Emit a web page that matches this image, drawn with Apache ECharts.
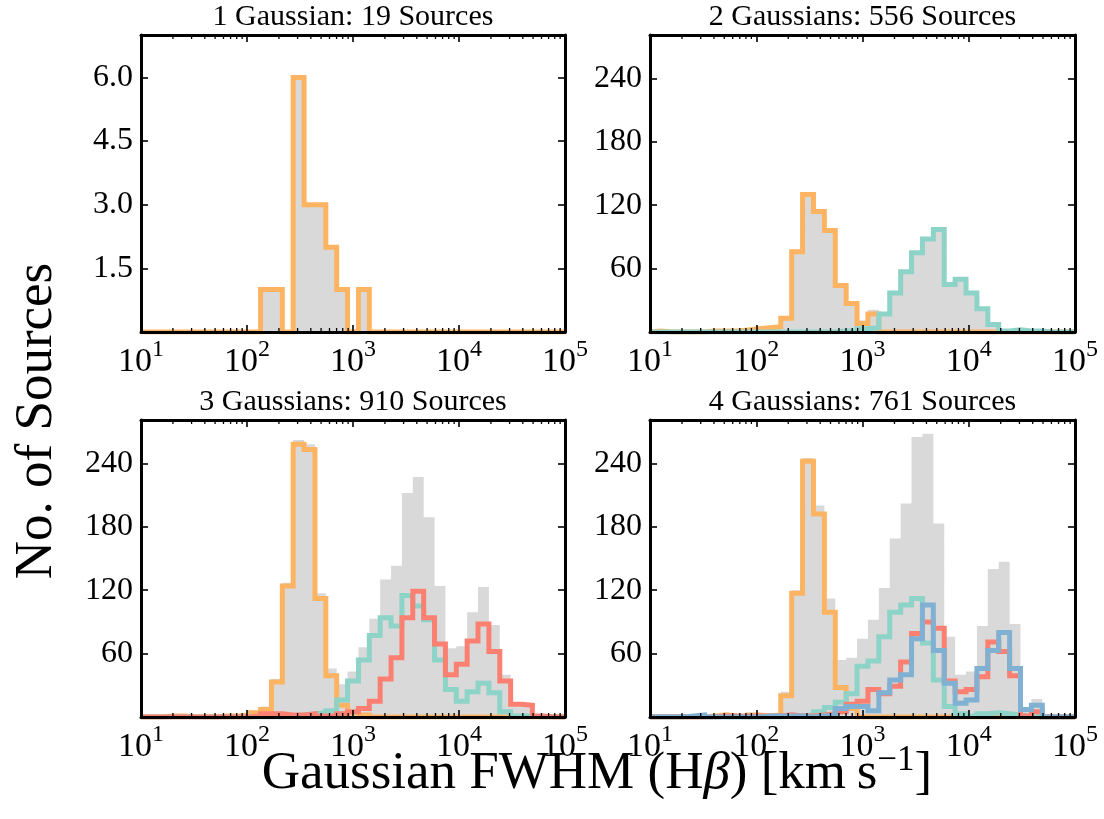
<!DOCTYPE html>
<html><head><meta charset="utf-8">
<script src="https://cdn.jsdelivr.net/npm/echarts@6/dist/echarts.min.js"></script>
<style>html,body{margin:0;padding:0;background:#fff}#c{width:1104px;height:819px}</style>
</head><body><div id="c"></div>
<script>
const FONT = "'Liberation Serif', 'Times New Roman', serif";

// Histogram binning: 39 log-spaced bins between 10^1 and 10^5 km/s
const BIN_LOG_MIN = 1, BIN_LOG_MAX = 5, N_BINS = 39;

// Panel titles
const panelTitles = ['1 Gaussian: 19 Sources', '2 Gaussians: 556 Sources',
                     '3 Gaussians: 910 Sources', '4 Gaussians: 761 Sources'];

// Y tick labels
const yTicks1 = [1.5, 3.0, 4.5, 6.0];
const yTicks234 = [60, 120, 180, 240];

// ---- counts per bin (bin 0 .. bin 38) ----
// Panel 1
const p1_total  = [0,0,0,0,0,0,0,0,0,0,0, 1,1,0,6,3,3,2,1,0,1, 0,0,0,0,0,0,0,0,0,0,0,0,0,0,0,0,0,0];
const p1_g1     = [0,0,0,0,0,0,0,0,0,0,0, 1,1,0,6,3,3,2,1,0,1, 0,0,0,0,0,0,0,0,0,0,0,0,0,0,0,0,0,0];

// Panel 2
const p2_total  = [1,0,0,0,0,1,1,1,2,3,4,5,13,76,130,114,96,45,28,11,21,17,37,57,75,88,97,45,50,37,22,7,1,2,1,1,0,0,0];
const p2_g1     = [1,0,0,0,0,1,1,1,2,3,4,5,13,76,130,114,96,44,27,8,17,0,0,0,0,0,0,0,0,0,0,0,0,0,0,0,0,0,0];
const p2_g2     = [0,0,0,0,0,0,0,0,0,0,0,0,0,0,0,0,0,1,1,3,4,17,37,57,75,88,97,45,50,37,22,7,1,2,1,1,0,0,0];

// Panel 3
const p3_total  = [0,0,1,1,0,0,0,1,1,2,5,10,36,127,262,258,117,46,31,43,66,93,130,143,212,227,189,124,65,67,99,123,87,40,14,12,1,0,0];
const p3_g1     = [0,0,1,1,0,0,0,1,1,2,4,7,33,124,258,253,112,39,11,4,2,0,0,0,0,0,0,0,0,0,0,0,0,0,0,0,0,0,0];
const p3_g2     = [0,0,0,0,0,0,0,0,0,0,0,0,0,1,2,3,4,6,16,34,54,77,94,86,115,105,92,54,26,15,24,32,23,5,1,1,0,0,0];
const p3_g3     = [0,0,0,0,0,0,0,0,0,0,1,3,3,2,2,3,1,1,3,5,8,15,36,56,94,119,94,69,40,50,72,88,62,34,12,11,1,0,0];

// Panel 4
const p4_total  = [0,0,0,1,2,1,3,2,1,3,3,4,24,120,245,200,112,54,56,74,92,122,169,202,265,268,183,76,40,43,86,140,147,88,9,17,0,0,0];
const p4_g1     = [0,0,0,0,0,1,2,1,0,2,1,2,20,117,242,192,99,28,8,0,0,0,0,0,0,0,0,0,0,0,0,0,0,0,0,0,0,0,0];
const p4_g2     = [0,0,0,0,0,0,0,0,0,0,0,0,1,1,2,5,9,14,22,48,53,76,99,106,112,70,35,10,3,1,3,4,3,2,1,0,0,0,0];
const p4_g3     = [0,0,0,0,0,0,1,1,1,1,1,1,2,1,1,2,3,5,12,15,26,22,29,52,79,90,84,34,24,26,38,71,62,39,1,5,0,0,0];
const p4_g4     = [0,0,0,1,2,0,0,0,0,0,1,1,1,1,0,1,2,8,10,10,6,23,35,40,74,106,63,32,13,16,46,63,80,46,7,11,0,0,0];

const COL_TOTAL = '#D9D9D9';
const COL = ['#FDB462', '#8DD3C7', '#FB8072', '#80B1D3'];

const panels = [
  { title: panelTitles[0], total: p1_total, comps: [p1_g1], ymax: 7.0, interval: 1.5, ticks: yTicks1, dec: 1 },
  { title: panelTitles[1], total: p2_total, comps: [p2_g1, p2_g2], ymax: 281, interval: 60, ticks: yTicks234, dec: 0 },
  { title: panelTitles[2], total: p3_total, comps: [p3_g1, p3_g2, p3_g3], ymax: 281, interval: 60, ticks: yTicks234, dec: 0 },
  { title: panelTitles[3], total: p4_total, comps: [p4_g1, p4_g2, p4_g3, p4_g4], ymax: 281, interval: 60, ticks: yTicks234, dec: 0 }
];

const grids = [
  { left: 141, top: 35, width: 424, height: 297 },
  { left: 650, top: 35, width: 425, height: 297 },
  { left: 141, top: 420, width: 424, height: 297 },
  { left: 650, top: 420, width: 425, height: 297 }
];

// bin edges (structure of the log-spaced binning)
const edges = [];
for (let k = 0; k <= N_BINS; k++) edges.push(Math.pow(10, BIN_LOG_MIN + k * (BIN_LOG_MAX - BIN_LOG_MIN) / N_BINS));

function stepPoints(counts) {
  const pts = [[edges[0], 0]];
  for (let i = 0; i < counts.length; i++) {
    pts.push([edges[i], counts[i]]);
    pts.push([edges[i + 1], counts[i]]);
  }
  pts.push([edges[counts.length], 0]);
  return pts;
}

// minor tick values on the log axis (2..9 x 10^n)
const minorVals = [];
for (let d = 1; d < 5; d++) for (let m = 2; m <= 9; m++) minorVals.push([m * Math.pow(10, d), 0]);

const xAxes = [], yAxes = [], series = [], graphics = [];
const lineCommon = { color: '#000', width: 3 };
const tickCommon = { show: true, inside: true, length: 7, lineStyle: { color: '#000', width: 1.6 } };

panels.forEach((p, i) => {
  const tickSet = p.ticks;
  xAxes.push({
    gridIndex: i, type: 'log', logBase: 10, min: 10, max: 100000, position: 'bottom', z: 10,
    axisLine: { show: true, onZero: false, lineStyle: lineCommon },
    axisTick: tickCommon, splitLine: { show: false }, minorTick: { show: false },
    axisLabel: {
      show: true, margin: 6, showMinLabel: true, showMaxLabel: true, hideOverlap: false, interval: 0,
      formatter: v => '{b|10}{s|' + Math.round(Math.log10(v)) + '}',
      rich: {
        b: { fontSize: 34, fontFamily: FONT, color: '#000', lineHeight: 48 },
        s: { fontSize: 24, fontFamily: FONT, color: '#000', lineHeight: 24, verticalAlign: 'top' }
      }
    }
  });
  xAxes.push({
    gridIndex: i, type: 'log', logBase: 10, min: 10, max: 100000, position: 'top', z: 10,
    axisLine: { show: true, onZero: false, lineStyle: lineCommon },
    axisTick: tickCommon, splitLine: { show: false }, axisLabel: { show: false }
  });
  const yBase = {
    gridIndex: i, type: 'value', min: 0, max: p.ymax, interval: p.interval, z: 10,
    axisLine: { show: true, onZero: false, lineStyle: lineCommon },
    axisTick: tickCommon, splitLine: { show: false }
  };
  yAxes.push(Object.assign({}, yBase, {
    position: 'left',
    axisLabel: {
      show: true, margin: 8, fontSize: 32, fontFamily: FONT, color: '#000', showMaxLabel: true,
      formatter: v => {
        const hit = tickSet.find(t => Math.abs(t - v) < 1e-6);
        return hit === undefined ? '' : hit.toFixed(p.dec);
      }
    }
  }));
  yAxes.push(Object.assign({}, yBase, { position: 'right', axisLabel: { show: false } }));

  const xi = 2 * i, yi = 2 * i;
  series.push({
    type: 'line', xAxisIndex: xi, yAxisIndex: yi, data: stepPoints(p.total), symbol: 'none',
    lineStyle: { width: 0, color: COL_TOTAL }, areaStyle: { color: COL_TOTAL, opacity: 1 },
    z: 1, silent: true, animation: false, clip: true
  });
  p.comps.forEach((c, j) => {
    series.push({
      type: 'line', xAxisIndex: xi, yAxisIndex: yi, data: stepPoints(c), symbol: 'none',
      lineStyle: { width: 5, color: COL[j], join: 'miter', cap: 'butt' },
      z: 2 + j * 0.01, silent: true, animation: false, clip: true
    });
  });
  const ymax = p.ymax;
  series.push({
    type: 'custom', xAxisIndex: xi, yAxisIndex: yi, data: minorVals, z: 20, silent: true, clip: false,
    animation: false,
    renderItem: (params, api) => {
      const v = api.value(0);
      const b = api.coord([v, 0]);
      const t = api.coord([v, ymax]);
      return { type: 'group', children: [
        { type: 'line', shape: { x1: b[0], y1: b[1], x2: b[0], y2: b[1] - 4 }, style: { stroke: '#000', lineWidth: 1.3 } },
        { type: 'line', shape: { x1: t[0], y1: t[1], x2: t[0], y2: t[1] + 4 }, style: { stroke: '#000', lineWidth: 1.3 } }
      ] };
    }
  });

  const g = grids[i];
  graphics.push({
    type: 'text', x: g.left + g.width / 2, y: g.top - 18,
    style: { text: p.title, fontSize: 30, fontFamily: FONT, fill: '#000', align: 'center', verticalAlign: 'middle' }
  });
});

graphics.push({
  type: 'text', x: 37, y: 421, rotation: Math.PI / 2,
  style: { text: 'No. of Sources', fontSize: 53, fontFamily: FONT, fill: '#000', align: 'center', verticalAlign: 'middle' }
});
graphics.push({
  type: 'text', x: 597, y: 774,
  style: {
    text: '{n|Gaussian FWHM (H}{i|β}{n|) [km\u2009s}{u|−1}{n|]}',
    align: 'center', verticalAlign: 'middle',
    rich: {
      n: { fontSize: 53, fontFamily: FONT, fill: '#000', lineHeight: 62 },
      i: { fontSize: 53, fontFamily: FONT, fontStyle: 'italic', fill: '#000', lineHeight: 62 },
      u: { fontSize: 35, fontFamily: FONT, fill: '#000', lineHeight: 35, verticalAlign: 'top' }
    }
  }
});

const chart = echarts.init(document.getElementById('c'), null, { renderer: 'canvas' });
chart.setOption({
  backgroundColor: '#fff',
  animation: false,
  grid: grids.map(g => Object.assign({ containLabel: false }, g)),
  xAxis: xAxes,
  yAxis: yAxes,
  series: series,
  graphic: graphics
});
</script></body></html>
